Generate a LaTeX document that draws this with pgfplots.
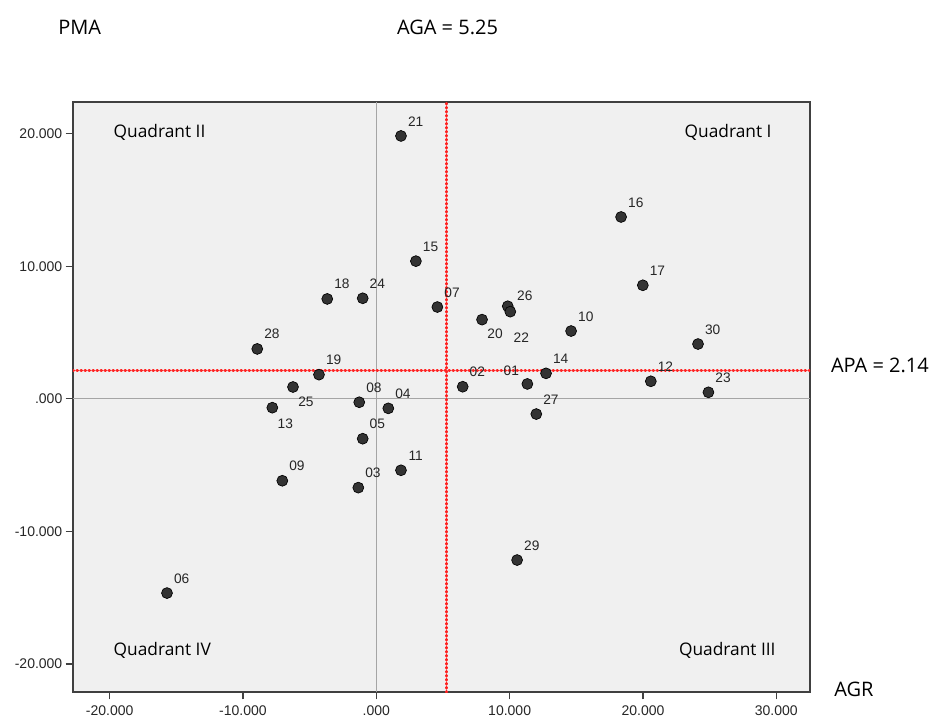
\documentclass[border=0pt]{standalone}
\usepackage{fontspec}
\setmainfont{Liberation Sans}
\newfontfamily\headfont{Open Sans}
\usepackage{pgfplots}
\usepackage{pgfplotstable}
\pgfplotsset{compat=1.18}

\definecolor{bgcol}{RGB}{240,240,240}
\definecolor{framecol}{RGB}{64,64,64}
\definecolor{dotcol}{RGB}{51,51,51}
\definecolor{refred}{RGB}{255,35,35}
\definecolor{zerogray}{RGB}{165,165,165}

% AGR (x), APA (y), province code, label offset in pt
\pgfplotstableread{
x      y      lab  dx     dy
1.85   19.82  21   11     11
18.36  13.71  16   11     11
2.97   10.38  15   11     11
19.99  8.56   17   11     11
-3.68  7.53   18   11     11
-1.02  7.58   24   11     11
4.58   6.92   07   11     11
9.86   6.98   26   12.75  7.5
10.05  6.57   22   8.25   -19.5
7.93   5.97   20   9.75   -10.5
14.61  5.11   10   11     11
24.13  4.13   30   11     11
-8.93  3.76   28   11     11
-4.30  1.82   19   11     11
12.73  1.92   14   11     11
20.59  1.32   12   11     11
6.48   0.91   02   11     11
11.33  1.12   01   -12    9.75
-6.25  0.89   25   9.75   -11.25
24.91  0.49   23   11     11
-1.28  -0.26  08   11     11
-7.80  -0.67  13   9.75   -12
0.90   -0.72  04   11     11
12.00  -1.15  27   11     11
-1.02  -3.01  05   11     11
1.85   -5.39  11   11     11
-7.05  -6.18  09   11     11
-1.35  -6.70  03   11     11
10.56  -12.16 29   11     11
-15.70 -14.65 06   11     11
}\pts

\begin{document}
\begin{tikzpicture}
\path[use as bounding box] (-54.75pt,-20.25pt) rectangle (653.25pt,519pt);
\begin{axis}[
    at={(0pt,0pt)}, anchor=south west,
    scale only axis, width=552.75pt, height=442.5pt,
    xmin=-22.75, xmax=32.53, ymin=-22.11, ymax=22.38,
    axis background/.style={fill=bgcol},
    axis line style={draw=framecol, line width=0.9pt},
    xtick={-20,-10,0,10,20,30},
    xticklabels={-20.000,-10.000,.000,10.000,20.000,30.000},
    ytick={-20,-10,0,10,20},
    yticklabels={-20.000,-10.000,.000,10.000,20.000},
    tick align=outside, tick pos=left,
    major tick length=5.5pt,
    tick style={draw=framecol, line width=0.9pt},
    ticklabel style={font=\fontsize{10.5}{12}\selectfont, text=black!85},
    xticklabel style={yshift=-1pt},
    yticklabel style={xshift=1pt},
  ]
  % zero lines
  \addplot[zerogray, line width=0.8pt, forget plot] coordinates {(-22.75,0) (32.53,0)};
  \addplot[zerogray, line width=0.8pt, forget plot] coordinates {(0,-22.11) (0,22.38)};

  % provinces
  \addplot[only marks, mark=*, mark size=4.1pt,
    mark options={fill=dotcol, draw=black, line width=0.5pt},
    nodes near coords, point meta=explicit symbolic,
    visualization depends on={\thisrow{dx} \as \labdx},
    visualization depends on={\thisrow{dy} \as \labdy},
    nodes near coords style={anchor=center, xshift=\labdx pt, yshift=\labdy pt,
      font=\fontsize{10.3}{12}\selectfont, text=black!85, inner sep=0pt}]
    table[x=x, y=y, meta=lab] {\pts};

  % averages
  \addplot[refred, line width=2.3pt, line cap=round, dash pattern=on 0.4pt off 2.6pt, forget plot]
    coordinates {(5.25,-22.11) (5.25,22.38)};
  \addplot[refred, line width=2.3pt, line cap=round, dash pattern=on 0.4pt off 2.6pt, forget plot]
    coordinates {(-22.75,2.14) (32.53,2.14)};

  \node[anchor=west, font=\headfont\fontsize{13}{15}\selectfont] at (axis cs:-20.05,20.1) {Quadrant II};
  \node[anchor=east, font=\headfont\fontsize{13}{15}\selectfont] at (axis cs:30,20.1) {Quadrant I};
  \node[anchor=west, font=\headfont\fontsize{13}{15}\selectfont] at (axis cs:-20.05,-19.0) {Quadrant IV};
  \node[anchor=east, font=\headfont\fontsize{13}{15}\selectfont] at (axis cs:30.3,-19.0) {Quadrant III};
\end{axis}
\node[anchor=west, font=\headfont\fontsize{15}{18}\selectfont, inner sep=0pt] at (-11.25pt,498.75pt) {PMA};
\node[anchor=center, font=\headfont\fontsize{15}{18}\selectfont, inner sep=0pt] at (280.9pt,498.75pt) {AGA = 5.25};
\node[anchor=west, font=\headfont\fontsize{15}{18}\selectfont, inner sep=0pt] at (568.3pt,245.25pt) {APA = 2.14};
\node[anchor=west, font=\headfont\fontsize{15}{18}\selectfont, inner sep=0pt] at (570.75pt,2.25pt) {AGR};
\end{tikzpicture}
\end{document}
